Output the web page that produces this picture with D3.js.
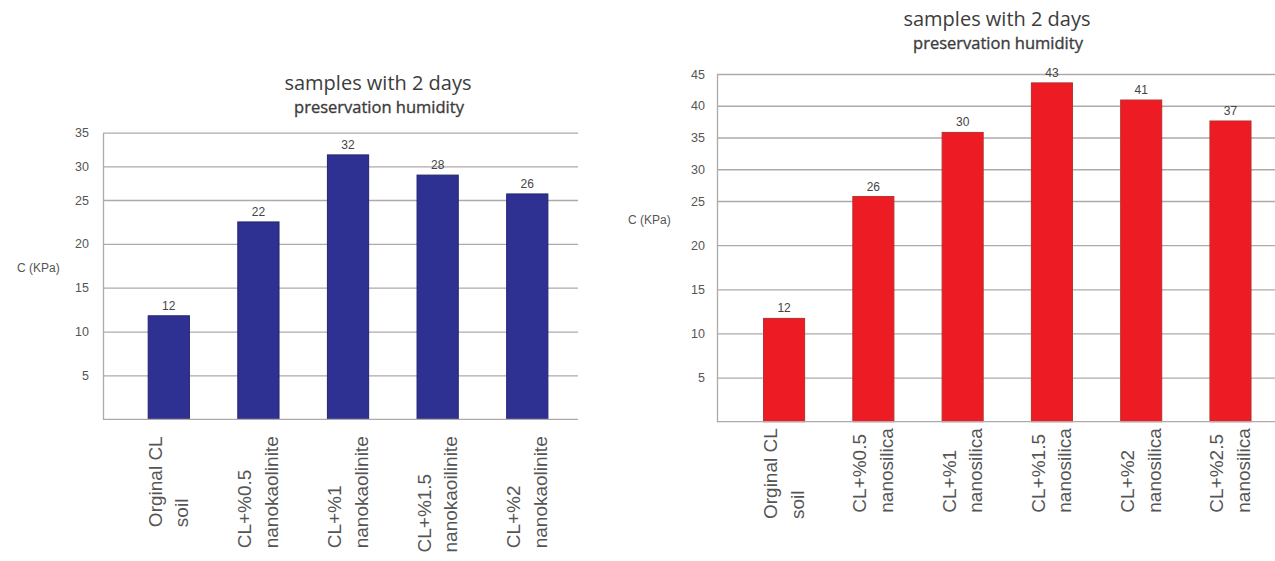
<!DOCTYPE html>
<html>
<head>
<meta charset="utf-8">
<script src="https://cdn.jsdelivr.net/npm/d3@7"></script>
<style>
  body { margin: 0; background: #fff; }
  svg { display: block; }
</style>
</head>
<body>
<svg id="chart" width="1275" height="561"></svg>
<script>
// nanokaolinite panel
const kaolinCategories = [
  ["Orginal CL", "soil"],
  ["CL+%0.5", "nanokaolinite"],
  ["CL+%1", "nanokaolinite"],
  ["CL+%1.5", "nanokaoilinite"],
  ["CL+%2", "nanokaolinite"]
];
const kaolinValues = [11.8, 22.5, 31.7, 28.7, 25.9];
const kaolinLabels = ["12", "22", "32", "28", "26"];
const kaolinTicks = [5, 10, 15, 20, 25, 30, 35];

// nanosilica panel
const silicaCategories = [
  ["Orginal CL", "soil"],
  ["CL+%0.5", "nanosilica"],
  ["CL+%1", "nanosilica"],
  ["CL+%1.5", "nanosilica"],
  ["CL+%2", "nanosilica"],
  ["CL+%2.5", "nanosilica"]
];
const silicaValues = [11.7, 25.7, 35.8, 43.6, 40.9, 37.6];
const silicaLabels = ["12", "26", "30", "43", "41", "37"];
const silicaTicks = [5, 10, 15, 20, 25, 30, 35, 40, 45];

const titleText = "samples with 2 days";
const subtitleText = "preservation humidity";
const yTitle = "C (KPa)";

const gridColor = "#b0a9a9";
const sans = "'Liberation Sans', Arial, sans-serif";

class barChart {
  constructor(config) {
    Object.assign(this, config);
    this.keys = this.categories.map(d => d.join(" "));
    this.g = d3.select(`#${this.rootId}`).append("g").attr("class", "bar-chart");
    this.createScale();
    this.render();
  }
  createScale() {
    const b = this.box;
    // the source figure is squashed above the 25 line, so the y scale bends there
    this.y = d3.scaleLinear()
      .domain([0, 25, d3.max(this.ticks)])
      .range([b.bottom, b.bend, b.top]);
    this.x = d3.scaleBand()
      .domain(this.keys)
      .range([b.left, b.right])
      .paddingInner(0.54)
      .paddingOuter(this.outer)
      .align(this.align);
  }
  render() {
    const g = this.g, x = this.x, y = this.y, b = this.box, keys = this.keys;

    const yAxis = d3.axisLeft(y)
      .tickValues(this.ticks)
      .tickSizeInner(-(b.right - b.left))
      .tickSizeOuter(0)
      .tickPadding(this.tickPad);

    const ga = g.append("g")
      .attr("class", "axis y")
      .attr("transform", `translate(${b.left},0)`)
      .call(yAxis)
      .attr("font-family", null)
      .attr("font-size", null);
    ga.select(".domain").attr("stroke", gridColor).attr("stroke-width", 1.3);
    ga.selectAll(".tick line").attr("stroke", gridColor).attr("stroke-width", 1.3);
    ga.selectAll(".tick text")
      .attr("fill", "#555")
      .style("font", `12.5px ${sans}`);

    g.selectAll(".bar")
      .data(this.values)
      .join("rect")
      .attr("class", "bar")
      .attr("x", (d, i) => x(keys[i]))
      .attr("width", x.bandwidth())
      .attr("y", d => y(d))
      .attr("height", d => y(0) - y(d))
      .attr("fill", this.color)
      .attr("stroke", this.edge)
      .attr("stroke-width", 1);

    g.append("line")
      .attr("x1", b.left).attr("x2", b.right)
      .attr("y1", y(0)).attr("y2", y(0))
      .attr("stroke", gridColor)
      .attr("stroke-width", 1.3);

    g.selectAll(".value")
      .data(this.values)
      .join("text")
      .attr("class", "value")
      .attr("x", (d, i) => x(keys[i]) + x.bandwidth() / 2)
      .attr("y", d => y(d) - 6)
      .attr("text-anchor", "middle")
      .attr("fill", "#444")
      .style("font", `12px ${sans}`)
      .text((d, i) => this.labels[i]);

    // rotated two-line category labels, block hangs from just under the axis
    const cat = g.selectAll(".cat")
      .data(this.categories)
      .join("g")
      .attr("class", "cat")
      .attr("transform", (d, i) =>
        `translate(${x(keys[i]) + x.bandwidth() / 2},${b.bottom + this.labelGap}) rotate(-90)`);
    cat.each(function(lines) {
      const t = d3.select(this).append("text")
        .attr("text-anchor", "start")
        .attr("fill", "#555")
        .style("font", `19px ${sans}`);
      const spans = t.selectAll("tspan")
        .data(lines)
        .join("tspan")
        .attr("y", (d, i) => -7 + i * 26.5)
        .text(d => d);
      const maxLen = d3.max(spans.nodes(), n => n.getComputedTextLength());
      spans.attr("x", -maxLen);
    });

    g.append("text")
      .attr("x", this.yLabel.x)
      .attr("y", this.yLabel.y)
      .attr("dy", "0.35em")
      .attr("fill", "#555")
      .style("font", `12px ${sans}`)
      .text(yTitle);

    this._title();
  }
  _title() {
    const t = this.title;
    this.g.append("text")
      .attr("x", t.x).attr("y", t.y)
      .attr("text-anchor", "middle")
      .attr("fill", "#3c3c3c")
      .style("font", "20px 'Open Sans', 'Noto Sans', sans-serif")
      .text(titleText);
    this.g.append("text")
      .attr("x", t.x + 1).attr("y", t.y + 23)
      .attr("text-anchor", "middle")
      .attr("fill", "#3c3c3c")
      .attr("stroke", "#3c3c3c")
      .attr("stroke-width", 0.35)
      .style("font", "16.5px 'Open Sans', 'Noto Sans', sans-serif")
      .text(subtitleText);
  }
}

new barChart({
  rootId: "chart",
  categories: kaolinCategories,
  values: kaolinValues,
  labels: kaolinLabels,
  ticks: kaolinTicks,
  box: { left: 103, right: 578, top: 132.7, bend: 200, bottom: 419.3 },
  outer: 0.42,
  align: 0.6,
  tickPad: 14,
  labelGap: 17,
  color: "#2e3192",
  edge: "#23256f",
  yLabel: { x: 17, y: 268 },
  title: { x: 378, y: 90 }
});

new barChart({
  rootId: "chart",
  categories: silicaCategories,
  values: silicaValues,
  labels: silicaLabels,
  ticks: silicaTicks,
  box: { left: 717, right: 1275, top: 74, bend: 201, bottom: 421.7 },
  outer: 0.395,
  align: 0.66,
  tickPad: 12,
  labelGap: 6.5,
  color: "#ed1c24",
  edge: "#b8302c",
  yLabel: { x: 628, y: 220 },
  title: { x: 997, y: 26 }
});
</script>
</body>
</html>
